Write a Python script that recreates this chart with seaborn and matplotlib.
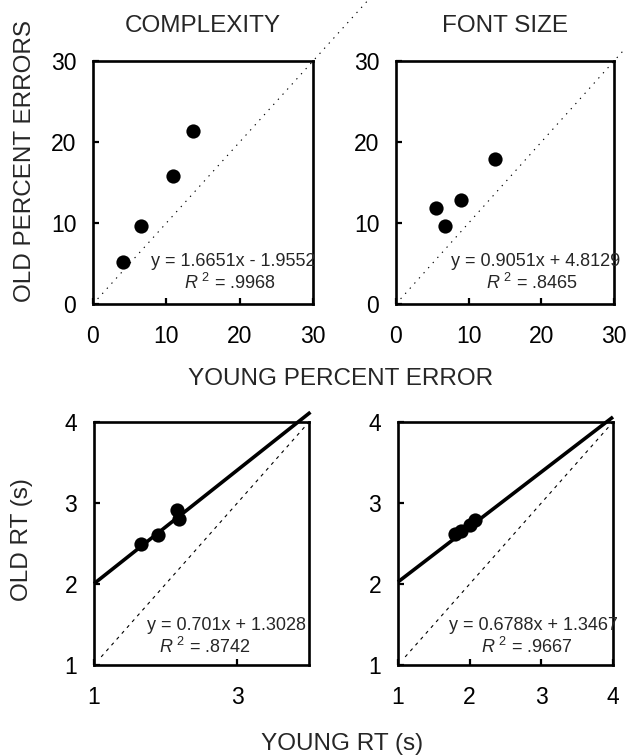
import matplotlib
matplotlib.use("Agg")
import matplotlib.pyplot as plt
import seaborn as sns

# values
complexity_young = [4.05, 6.6, 10.9, 13.7]
complexity_old = [5.15, 9.6, 15.8, 21.4]
fontsize_young = [5.5, 6.74, 8.94, 13.67]
fontsize_old = [11.9, 9.67, 12.8, 17.86]

rt_complexity_young = [1.65, 1.90, 2.16, 2.19]
rt_complexity_old = [2.50, 2.61, 2.91, 2.80]
rt_fontsize_young = [1.80, 1.88, 2.00, 2.08]
rt_fontsize_old = [2.62, 2.66, 2.73, 2.79]

titles = ["COMPLEXITY", "FONT SIZE"]
error_ticks = [0, 10, 20, 30]
rt_yticks = [1, 2, 3, 4]
rt_xticks_left = [1, 3]
rt_xticks_right = [1, 2, 3, 4]

equations = [
    "y = 1.6651x - 1.9552",
    "y = 0.9051x + 4.8129",
    "y = 0.701x + 1.3028",
    "y = 0.6788x + 1.3467",
]
r_squared = [".9968", ".8465", ".8742", ".9667"]
rt_slopes = [0.701, 0.6788]
rt_intercepts = [1.3028, 1.3467]

sns.set_style("ticks")
plt.rcParams["font.family"] = ["Liberation Sans", "DejaVu Sans"]
plt.rcParams["mathtext.fontset"] = "custom"
plt.rcParams["mathtext.rm"] = "Liberation Sans"
plt.rcParams["mathtext.it"] = "Liberation Sans:italic"

fig = plt.figure(figsize=(6.26, 7.56), dpi=100)
W, H = 626, 756


def add_box(x0, x1, y0, y1):
    return fig.add_axes([x0 / W, 1 - y1 / H, (x1 - x0) / W, (y1 - y0) / H])


ax_tl = add_box(93, 313, 61, 304)
ax_tr = add_box(396, 614, 61, 304)
ax_bl = add_box(94, 309, 422, 665)
ax_br = add_box(398, 613, 422, 665)


def style_axes(ax):
    for side in ax.spines.values():
        side.set_linewidth(1.9)
        side.set_color("black")
    ax.tick_params(direction="in", length=4, width=1.6, labelsize=16.5,
                   color="black", labelcolor="black", top=False, right=False)
    ax.tick_params(axis="x", pad=15)
    ax.tick_params(axis="y", pad=12)
    ax.set_xlabel("")
    ax.set_ylabel("")


# top row: percent errors
tops = [
    (ax_tl, complexity_young, complexity_old, 37.5, equations[0], r_squared[0], 30.4),
    (ax_tr, fontsize_young, fontsize_old, 31.5, equations[1], r_squared[1], 30.9),
]
for i, (ax, xs, ys, diag_end, eq, r2, eq_x) in enumerate(tops):
    ax.plot([0, diag_end], [0, diag_end], color="black", lw=0.8,
            linestyle=(0, (1.2, 5)), clip_on=False, zorder=1)
    sns.scatterplot(x=xs, y=ys, ax=ax, s=105, color="black",
                    edgecolor="black", linewidth=0, zorder=3)
    ax.set_xlim(0, 30)
    ax.set_ylim(0, 30)
    ax.set_xticks(error_ticks)
    ax.set_yticks(error_ticks)
    ax.text(eq_x, 5.2, eq, ha="right", va="center", fontsize=13)
    ax.text(18.7, 2.6, r"$R^{\ 2}$ = " + r2, ha="center", va="center",
            fontsize=13)
    ax.set_title(titles[i], fontsize=17.5, pad=21)
    style_axes(ax)

# bottom row: reaction times
bottoms = [
    (ax_bl, rt_complexity_young, rt_complexity_old, rt_xticks_left, 0, 4.02),
    (ax_br, rt_fontsize_young, rt_fontsize_old, rt_xticks_right, 1, 4.0),
]
for ax, xs, ys, xt, k, x_end in bottoms:
    ax.plot([1.1, 4], [1.1, 4], color="black", lw=0.8,
            linestyle=(0, (3, 4)), zorder=1)
    line_x = [1, x_end]
    line_y = [rt_slopes[k] * v + rt_intercepts[k] for v in line_x]
    ax.plot(line_x, line_y, color="black", lw=2.6, clip_on=False, zorder=2,
            solid_capstyle="butt")
    sns.scatterplot(x=xs, y=ys, ax=ax, s=105, color="black",
                    edgecolor="black", linewidth=0, zorder=3)
    ax.set_xlim(1, 4)
    ax.set_ylim(1, 4)
    ax.set_xticks(xt)
    ax.set_yticks(rt_yticks)
    ax.text(3.96 if k == 0 else 4.07, 1.49, equations[2 + k],
            ha="right", va="center", fontsize=13)
    ax.text(2.55 if k == 0 else 2.8, 1.22, r"$R^{\ 2}$ = " + r_squared[2 + k],
            ha="center", va="center", fontsize=13)
    style_axes(ax)

fig.text(25 / W, 1 - 161 / H, "OLD PERCENT ERRORS", rotation=90,
         ha="center", va="center", fontsize=17.5)
fig.text(22 / W, 1 - 540 / H, "OLD RT (s)", rotation=90,
         ha="center", va="center", fontsize=17.5)
fig.text(341 / W, 1 - 379 / H, "YOUNG PERCENT ERROR", ha="center",
         va="center", fontsize=17.5)
fig.text(342 / W, 1 - 744 / H, "YOUNG RT (s)", ha="center", va="center",
         fontsize=17.5)

fig.savefig("out.png", dpi=100, facecolor="white")
